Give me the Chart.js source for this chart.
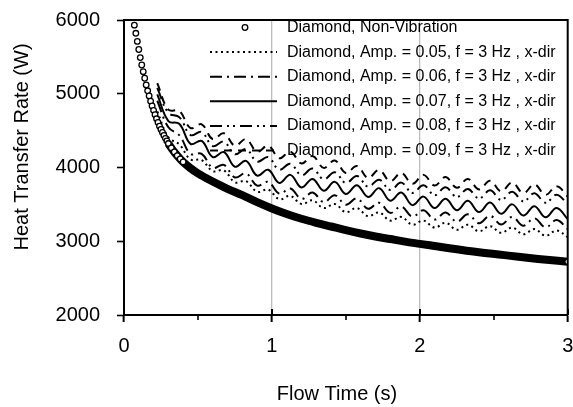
<!DOCTYPE html>
<html><head><meta charset="utf-8">
<script src="https://cdn.jsdelivr.net/npm/chart.js@4/dist/chart.umd.min.js"></script>
<style>html,body{margin:0;padding:0;background:#fff}#wrap{width:573px;height:407px}</style>
</head><body><div id="wrap"><canvas id="c" width="573" height="407"></canvas></div>
<script>
// ---------- data ----------
const seriesLabels = [
  'Diamond, Non-Vibration',
  'Diamond, Amp. = 0.05, f = 3 Hz , x-dir',
  'Diamond, Amp. = 0.06, f = 3 Hz , x-dir',
  'Diamond, Amp. = 0.07, f = 3 Hz , x-dir',
  'Diamond, Amp. = 0.08, f = 3 Hz , x-dir',
  'Diamond, Amp. = 0.09, f = 3 Hz , x-dir'
];
const xTickValues = [0, 1, 2, 3];
const xMinorTicks = [0.5, 1.5, 2.5];
const yTickValues = [2000, 3000, 4000, 5000, 6000];
const xAxisTitle = 'Flow Time (s)';
const yAxisTitle = 'Heat Transfer Rate (W)';

const baseTimes = [0.04,0.05,0.06,0.07,0.08,0.09,0.10,0.11,0.12,0.13,0.14,0.15,0.16,0.17,0.18,0.19,0.20,
  0.21,0.22,0.23,0.24,0.25,0.26,0.27,0.28,0.29,0.30,0.32,0.34,0.36,0.38,0.40,0.45,0.50,0.60,0.70,0.80,0.90,
  1.00,1.10,1.20,1.30,1.40,1.50,1.60,1.70,1.80,1.90,2.00,2.20,2.40,2.60,2.80,3.00];
const baseHeat = [6600,6250,6050,5930,5820,5710,5600,5490,5390,5300,5210,5120,5040,4970,4900,4835,4775,
  4715,4660,4610,4560,4515,4475,4435,4395,4360,4325,4265,4210,4160,4115,4075,3990,3920,3810,3710,3625,3530,
  3445,3370,3305,3250,3200,3150,3105,3065,3030,2995,2965,2905,2850,2805,2760,2722];

const vibTimes = [0.225,0.300,0.375,0.450,0.525,0.600,0.675,0.750,0.825,0.900,0.975,1.050,1.125,1.200,
  1.275,1.350,1.425,1.500,1.575,1.650,1.725,1.800,1.875,1.950,2.025,2.100,2.175,2.250,2.325,2.400,2.475,
  2.550,2.625,2.700,2.775,2.850,2.925,3.000];
const amp005 = [4760,4410,4310,4110,4100,3950,3960,3800,3815,3670,3700,3570,3615,3505,3555,3450,3505,3395,
  3450,3340,3390,3280,3330,3225,3280,3185,3250,3155,3225,3135,3205,3115,3185,3095,3165,3075,3145,3055];
const amp006 = [4905,4545,4435,4185,4185,3995,4035,3865,3920,3755,3805,3645,3715,3575,3660,3530,3625,3495,
  3580,3440,3523,3385,3470,3335,3420,3295,3390,3265,3365,3245,3345,3227,3329,3211,3311,3189,3287,3165];
const amp007 = [4990,4630,4590,4320,4360,4140,4210,4010,4090,3890,3970,3790,3900,3730,3845,3685,3805,3640,
  3760,3600,3720,3550,3660,3490,3605,3450,3575,3420,3548,3396,3524,3372,3500,3348,3476,3324,3452,3300];
const amp008 = [5080,4740,4680,4440,4480,4290,4350,4180,4250,4080,4140,3970,4050,3895,3985,3840,3935,3790,
  3885,3740,3835,3695,3795,3655,3758,3625,3732,3600,3710,3580,3690,3560,3672,3540,3652,3522,3632,3502];
const amp009 = [5145,4785,4765,4535,4585,4385,4465,4295,4385,4215,4295,4125,4215,4055,4155,3995,4095,3925,
  4020,3860,3965,3815,3925,3780,3900,3755,3870,3725,3845,3703,3820,3678,3795,3653,3771,3629,3747,3605];

// ---------- build ----------
const FONT = '"Liberation Sans", Arial, Helvetica, sans-serif';
Chart.defaults.font.family = FONT;
Chart.defaults.color = '#000';

function pts(xs, ys) { return xs.map((x, i) => ({ x: x, y: ys[i] })); }

const vibSeries = [amp005, amp006, amp007, amp008, amp009];
const dashes = [[2, 3.5], [12, 5, 2, 5], [], [12, 5, 2, 4, 2, 5], [8, 6]];

const datasets = [{
  label: seriesLabels[0],
  data: pts(baseTimes, baseHeat),
  showLine: true,
  borderColor: '#000',
  borderWidth: 8,
  cubicInterpolationMode: 'monotone',
  segment: { borderColor: c => (c.p0.parsed.x < 0.3 ? 'rgba(0,0,0,0)' : '#000') },
  pointRadius: c => { const r = c.raw; if (!r) return 0; return (r.x <= 0.41 || r.x >= 3) ? 2.8 : 0; },
  pointBorderWidth: 1.3,
  pointBackgroundColor: '#fff',
  pointBorderColor: '#000',
  pointStyle: 'circle',
  legendDash: null
}];
vibSeries.forEach((s, i) => {
  datasets.push({
    label: seriesLabels[i + 1],
    data: pts(vibTimes, s),
    showLine: true,
    borderColor: '#000',
    borderWidth: 2,
    borderDash: dashes[i],
    tension: 0.4,
    pointRadius: 0,
    legendDash: dashes[i]
  });
});

const decorPlugin = {
  id: 'decor',
  afterDraw(chart) {
    const ctx = chart.ctx, a = chart.chartArea;
    const xs = chart.scales.x;
    ctx.save();
    ctx.strokeStyle = '#000'; ctx.lineWidth = 2;
    ctx.beginPath();
    ctx.moveTo(a.left - 1, a.top); ctx.lineTo(a.right, a.top); ctx.lineTo(a.right, a.bottom);
    ctx.stroke();
    ctx.lineWidth = 2;
    xTickValues.forEach(v => {
      const px = Math.round(xs.getPixelForValue(v));
      ctx.beginPath(); ctx.moveTo(px, a.bottom - 6); ctx.lineTo(px, a.bottom); ctx.stroke();
    });
    ctx.lineWidth = 1.6;
    xMinorTicks.forEach(v => {
      const px = Math.round(xs.getPixelForValue(v));
      ctx.beginPath(); ctx.moveTo(px, a.bottom); ctx.lineTo(px, a.bottom + 5); ctx.stroke();
    });
    ctx.fillStyle = '#000';
    ctx.font = '20px ' + FONT;
    ctx.textAlign = 'center'; ctx.textBaseline = 'middle';
    ctx.fillText(xAxisTitle, 337, 394);
    ctx.save();
    ctx.translate(22, 147); ctx.rotate(-Math.PI / 2);
    ctx.fillText(yAxisTitle, 0, 0);
    ctx.restore();
    ctx.font = '16px ' + FONT;
    ctx.textAlign = 'left';
    chart.data.datasets.forEach((ds, i) => {
      const y = 27.5 + i * 24.6;
      if (i === 0) {
        ctx.beginPath(); ctx.arc(245, y, 2.8, 0, Math.PI * 2);
        ctx.fillStyle = '#fff'; ctx.fill();
        ctx.lineWidth = 1.3; ctx.strokeStyle = '#000'; ctx.stroke();
      } else {
        ctx.beginPath(); ctx.setLineDash(ds.legendDash || []);
        ctx.lineWidth = 2; ctx.strokeStyle = '#000';
        ctx.moveTo(210, y); ctx.lineTo(277, y); ctx.stroke();
        ctx.setLineDash([]);
      }
      ctx.fillStyle = '#000';
      ctx.fillText(ds.label, 287, y);
    });
    ctx.restore();
  }
};

new Chart(document.getElementById('c'), {
  type: 'scatter',
  data: { datasets: datasets },
  options: {
    responsive: false,
    animation: false,
    devicePixelRatio: 1,
    layout: { padding: { top: 20, right: 0, left: 0, bottom: 0 } },
    plugins: { legend: { display: false }, tooltip: { enabled: false } },
    scales: {
      x: {
        type: 'linear', min: 0, max: 3,
        afterFit: s => { s.height = 92; s.paddingLeft = 0; s.paddingRight = 0; },
        afterBuildTicks: s => { s.ticks = xTickValues.map(v => ({ value: v })); },
        ticks: { font: { size: 20 }, color: '#000', padding: 12, maxRotation: 0, autoSkip: false,
          callback: v => String(v) },
        grid: {
          color: c => (c.tick && (c.tick.value === 1 || c.tick.value === 2)) ? '#bdbdbd' : 'rgba(0,0,0,0)',
          lineWidth: 1.3, tickColor: '#000', tickLength: 7, tickWidth: 2
        },
        border: { color: '#000', width: 2 }
      },
      y: {
        type: 'linear', min: 2000, max: 6000,
        afterFit: s => { s.width = 124; s.paddingTop = 0; s.paddingBottom = 0; },
        afterBuildTicks: s => { s.ticks = yTickValues.map(v => ({ value: v })); },
        ticks: { font: { size: 20 }, color: '#000', padding: 17, callback: v => String(v) },
        grid: { drawOnChartArea: false, tickColor: '#000', tickLength: 7, tickWidth: 1.6 },
        border: { color: '#000', width: 2 }
      }
    }
  },
  plugins: [decorPlugin]
});
</script></body></html>
